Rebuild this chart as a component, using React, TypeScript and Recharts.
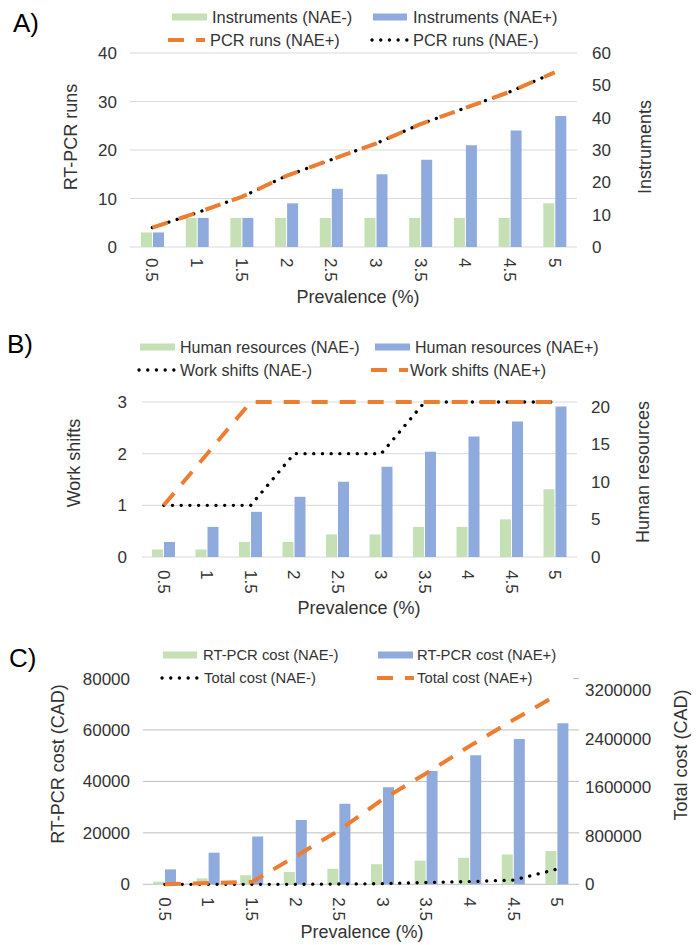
import React from 'react';
import { ComposedChart, Bar, Line, XAxis, YAxis, CartesianGrid } from 'recharts';

const FONT = '"Liberation Sans", Arial, sans-serif';
const GREEN = '#C5E0B4';
const BLUE = '#8FAADC';
const ORANGE = '#ED7D31';
const TEXT = '#333333';

const prevalence = ['0.5', '1', '1.5', '2', '2.5', '3', '3.5', '4', '4.5', '5'];

// A) instruments and PCR runs
const instrumentsNAEneg = [3, 6, 6, 6, 6, 6, 6, 6, 6, 9];
const instrumentsNAEpos = [3, 6, 6, 9, 12, 15, 18, 21, 24, 27];
const pcrRunsNAEpos = [6, 10.6, 15.5, 22, 27, 32, 38, 43, 48, 54];
const pcrRunsNAEneg = [6, 10.6, 15.5, 22, 27, 32, 38, 43, 48, 54];
const runsTicks = [0, 10, 20, 30, 40];
const instrumentTicks = [0, 10, 20, 30, 40, 50, 60];

// B) human resources and work shifts
const humanNAEneg = [1, 1, 2, 2, 3, 3, 4, 4, 5, 9];
const humanNAEpos = [2, 4, 6, 8, 10, 12, 14, 16, 18, 20];
const shiftsNAEneg = [1, 1, 1, 2, 2, 2, 3, 3, 3, 3];
const shiftsNAEpos = [1, 2, 3, 3, 3, 3, 3, 3, 3, 3];
const shiftTicks = [0, 1, 2, 3];
const humanTicks = [0, 5, 10, 15, 20];

// C) costs
const rtpcrCostNAEneg = [1000, 2300, 3500, 4800, 6000, 7800, 9200, 10300, 11600, 12900];
const rtpcrCostNAEpos = [5800, 12300, 18600, 25000, 31300, 37700, 44000, 50200, 56500, 62600];
const totalCostNAEneg = [0, 0, 0, 0, 5000, 10000, 30000, 45000, 70000, 250000];
const totalCostNAEpos = [0, 20000, 40000, 460000, 890000, 1400000, 1830000, 2280000, 2710000, 3120000];
const rtpcrTicks = [0, 20000, 40000, 60000, 80000];
const totalTicks = [0, 800000, 1600000, 2400000, 3200000];

const dataA = prevalence.map((p, i) => ({
  p,
  instNeg: instrumentsNAEneg[i],
  instPos: instrumentsNAEpos[i],
  runsPos: pcrRunsNAEpos[i],
  runsNeg: pcrRunsNAEneg[i],
}));

const dataB = prevalence.map((p, i) => ({
  p,
  hrNeg: humanNAEneg[i],
  hrPos: humanNAEpos[i],
  shNeg: shiftsNAEneg[i],
  shPos: shiftsNAEpos[i],
}));

const dataC = prevalence.map((p, i) => ({
  p,
  costNeg: rtpcrCostNAEneg[i],
  costPos: rtpcrCostNAEpos[i],
  totNeg: totalCostNAEneg[i],
  totPos: totalCostNAEpos[i],
}));

const RotatedTick = (props: any) => {
  const { x, y, payload } = props;
  return (
    <text
      x={x}
      y={y}
      transform={`rotate(90, ${x}, ${y})`}
      textAnchor="start"
      dy="0.35em"
      fontSize={17}
      fill={TEXT}
      fontFamily={FONT}
    >
      {payload.value}
    </text>
  );
};

const tickStyle = { fontSize: 17, fill: TEXT, fontFamily: FONT };
const dashStyle = { stroke: ORANGE, strokeWidth: 4, strokeDasharray: '16 12' };
const dotStyle = { stroke: '#000', strokeWidth: 3.3, strokeDasharray: '0.1 8.6', strokeLinecap: 'round' as const };

const LegendRect = ({ x1, x2, y, fill }: any) => (
  <rect x={x1} y={y - 3.5} width={x2 - x1} height={7} fill={fill} />
);
const LegendDash = ({ x1, y }: any) => (
  <line x1={x1} x2={x1 + 37} y1={y} y2={y} stroke={ORANGE} strokeWidth={4} strokeDasharray="16 12" />
);
const LegendDots = ({ x1, x2, y }: any) => (
  <line x1={x1 + 2} x2={x2} y1={y} y2={y} stroke="#000" strokeWidth={3.3} strokeDasharray="0.1 8.6" strokeLinecap="round" />
);
const LegendText = ({ x, y, size = 16, children }: any) => (
  <text x={x} y={y} dominantBaseline="central" fontSize={size} fill={TEXT} fontFamily={FONT}>
    {children}
  </text>
);
const VTitle = ({ x, y, children }: any) => (
  <text
    x={x}
    y={y}
    transform={`rotate(-90, ${x}, ${y})`}
    textAnchor="middle"
    dominantBaseline="central"
    fontSize={18}
    fill={TEXT}
    fontFamily={FONT}
  >
    {children}
  </text>
);
const HTitle = ({ x, y, children }: any) => (
  <text x={x} y={y} textAnchor="middle" dominantBaseline="central" fontSize={18} fill={TEXT} fontFamily={FONT}>
    {children}
  </text>
);

const App = () => {
  return (
    <div style={{ position: 'absolute', left: 0, top: 0, width: 700, height: 945, background: '#fff' }}>
      {/* A */}
      <div style={{ position: 'absolute', left: 0, top: 0 }}>
        <ComposedChart width={700} height={310} data={dataA} margin={{ top: 53, right: 0, bottom: 0, left: 0 }} barSize={11} barGap={1}>
          <CartesianGrid vertical={false} stroke="#d9d9d9" />
          <XAxis dataKey="p" height={63} axisLine={false} tickLine={false} tickSize={0} tickMargin={11} interval={0} tick={<RotatedTick />} />
          <YAxis domain={[0, 40]} ticks={runsTicks} width={130} axisLine={false} tickLine={false} tickSize={0} tickMargin={13} tick={tickStyle} />
          <YAxis yAxisId="right" orientation="right" domain={[0, 60]} ticks={instrumentTicks} width={123} axisLine={false} tickLine={false} tickSize={0} tickMargin={15} tick={tickStyle} />
          <Bar dataKey="instNeg" fill={GREEN} isAnimationActive={false} />
          <Bar dataKey="instPos" fill={BLUE} isAnimationActive={false} />
          <Line yAxisId="right" type="linear" dataKey="runsNeg" dot={false} {...dotStyle} isAnimationActive={false} />
          <Line yAxisId="right" type="linear" dataKey="runsPos" dot={false} {...dashStyle} isAnimationActive={false} />
        </ComposedChart>
      </div>

      {/* B */}
      <div style={{ position: 'absolute', left: 0, top: 310 }}>
        <ComposedChart width={700} height={315} data={dataB} margin={{ top: 92, right: 0, bottom: 0, left: 0 }} barSize={11} barGap={1}>
          <CartesianGrid vertical={false} stroke="#d9d9d9" />
          <XAxis dataKey="p" height={68} axisLine={false} tickLine={false} tickSize={0} tickMargin={13} interval={0} tick={<RotatedTick />} />
          <YAxis domain={[0, 3]} ticks={shiftTicks} width={142} axisLine={false} tickLine={false} tickSize={0} tickMargin={15} tick={tickStyle} />
          <YAxis yAxisId="right" orientation="right" domain={[0, 20.6]} ticks={humanTicks} width={123} axisLine={false} tickLine={false} tickSize={0} tickMargin={14} tick={tickStyle} />
          <Bar yAxisId="right" dataKey="hrNeg" fill={GREEN} isAnimationActive={false} />
          <Bar yAxisId="right" dataKey="hrPos" fill={BLUE} isAnimationActive={false} />
          <Line type="linear" dataKey="shNeg" dot={false} {...dotStyle} isAnimationActive={false} />
          <Line type="linear" dataKey="shPos" dot={false} {...dashStyle} isAnimationActive={false} />
        </ComposedChart>
      </div>

      {/* C */}
      <div style={{ position: 'absolute', left: 0, top: 625 }}>
        <ComposedChart width={700} height={320} data={dataC} margin={{ top: 53.5, right: 0, bottom: 0, left: 0 }} barSize={11} barGap={1}>
          <CartesianGrid vertical={false} stroke="#bfbfbf" />
          <XAxis dataKey="p" height={60.7} axisLine={false} tickLine={false} tickSize={0} tickMargin={13} interval={0} tick={<RotatedTick />} />
          <YAxis domain={[0, 80000]} ticks={rtpcrTicks} width={143} axisLine={false} tickLine={false} tickSize={0} tickMargin={13} tick={tickStyle} />
          <YAxis yAxisId="right" orientation="right" domain={[0, 3390000]} ticks={totalTicks} width={121} axisLine={false} tickLine={false} tickSize={0} tickMargin={6} tick={tickStyle} />
          <Bar dataKey="costNeg" fill={GREEN} isAnimationActive={false} />
          <Bar dataKey="costPos" fill={BLUE} isAnimationActive={false} />
          <Line yAxisId="right" type="linear" dataKey="totNeg" dot={false} {...dotStyle} isAnimationActive={false} />
          <Line yAxisId="right" type="linear" dataKey="totPos" dot={false} {...dashStyle} isAnimationActive={false} />
        </ComposedChart>
      </div>

      {/* titles and legends */}
      <svg width={700} height={945} style={{ position: 'absolute', left: 0, top: 0, pointerEvents: 'none' }}>
        <text x={13} y={32} fontSize={26} fill="#000" fontFamily={FONT}>A)</text>
        <text x={7} y={353} fontSize={26} fill="#000" fontFamily={FONT}>B)</text>
        <text x={9} y={667} fontSize={26} fill="#000" fontFamily={FONT}>C)</text>

        {/* A legend */}
        <LegendRect x1={172} x2={207} y={17} fill={GREEN} />
        <LegendText x={212} y={17} size={16.4}>Instruments (NAE-)</LegendText>
        <LegendRect x1={373} x2={407} y={17} fill={BLUE} />
        <LegendText x={413} y={17} size={16.4}>Instruments (NAE+)</LegendText>
        <LegendDash x1={168} y={40} />
        <LegendText x={210} y={40} size={16.4}>PCR runs (NAE+)</LegendText>
        <LegendDots x1={370} x2={410} y={40} />
        <LegendText x={413} y={40} size={16.4}>PCR runs (NAE-)</LegendText>
        <VTitle x={71} y={137}>RT-PCR runs</VTitle>
        <VTitle x={645} y={147}>Instruments</VTitle>
        <HTitle x={358} y={297}>Prevalence (%)</HTitle>

        {/* B legend */}
        <LegendRect x1={140} x2={175} y={347} fill={GREEN} />
        <LegendText x={180} y={347}>Human resources (NAE-)</LegendText>
        <LegendRect x1={375} x2={410} y={347} fill={BLUE} />
        <LegendText x={415} y={347}>Human resources (NAE+)</LegendText>
        <LegendDots x1={137} x2={176} y={370} />
        <LegendText x={180} y={370}>Work shifts (NAE-)</LegendText>
        <LegendDash x1={371} y={370} />
        <LegendText x={410} y={370}>Work shifts (NAE+)</LegendText>
        <VTitle x={74} y={463}>Work shifts</VTitle>
        <VTitle x={643} y={472}>Human resources</VTitle>
        <HTitle x={359} y={608}>Prevalence (%)</HTitle>

        {/* C legend */}
        <rect x={140} y={638} width={433} height={54} fill="#fff" />
        <LegendRect x1={163} x2={197} y={655} fill={GREEN} />
        <LegendText x={203} y={655} size={14.8}>RT-PCR cost (NAE-)</LegendText>
        <LegendRect x1={378} x2={413} y={655} fill={BLUE} />
        <LegendText x={417} y={655} size={14.8}>RT-PCR cost (NAE+)</LegendText>
        <LegendDots x1={160} x2={200} y={678} />
        <LegendText x={204} y={678} size={14.8}>Total cost (NAE-)</LegendText>
        <LegendDash x1={377} y={678} />
        <LegendText x={417} y={678} size={14.8}>Total cost (NAE+)</LegendText>
        <VTitle x={58} y={764}>RT-PCR cost (CAD)</VTitle>
        <VTitle x={681} y={755}>Total cost (CAD)</VTitle>
        <HTitle x={362} y={932}>Prevalence (%)</HTitle>
      </svg>
    </div>
  );
};

export default App;
